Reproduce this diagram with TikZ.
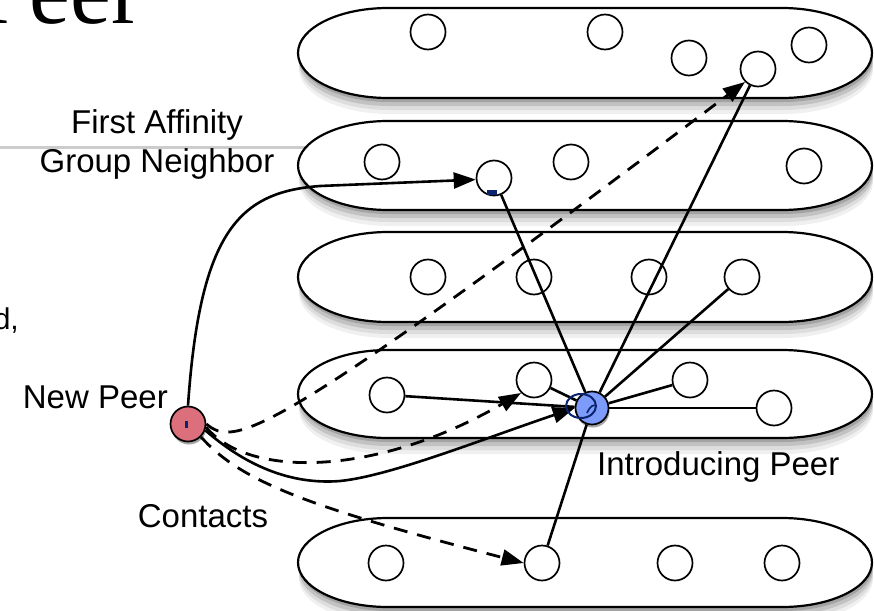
\documentclass[tikz,border=0pt]{standalone}
\usepackage{fontspec}
\setmainfont{Liberation Sans}
\newfontfamily\serifbig{Liberation Serif}
\usetikzlibrary{arrows.meta,shadows}
\definecolor{peerred}{HTML}{DB6F7B}
\definecolor{peerblue}{HTML}{7D9BFA}
\definecolor{inknavy}{HTML}{0A2470}
\tikzset{
  pill/.style={draw=black, line width=2.2pt, fill=white},
  peer/.style={circle, draw=black, line width=1.7pt, minimum size=35pt, inner sep=0pt},
  special/.style={peer, drop shadow={shadow xshift=1pt, shadow yshift=-3pt, opacity=0.35, fill=black}},
  conn/.style={line width=2.6pt},
  dashconn/.style={line width=2.8pt, dash pattern=on 14pt off 10pt},
  arr/.style={-{Triangle[length=22pt,width=16pt]}},
  lbl/.style={font=\fontsize{33}{39}\selectfont, inner sep=0pt},
  ink/.style={fill=inknavy, draw=none}
}
\begin{document}
\begin{tikzpicture}[x=1pt,y=1pt]
\useasboundingbox (0,0) rectangle (874,-610);
% fragments of slide text
\node[anchor=base west, inner sep=0pt, font=\serifbig\fontsize{92}{92}\selectfont] (ttl) at (-22,-24) {Peer};
\node[anchor=base east, inner sep=0pt, font=\fontsize{30}{32}\selectfont] (dfrag) at (19,-329) {d,};
% gray rule
\draw[line width=3pt, black!20] (0,-147) -- (310,-147);
% affinity groups with soft shadows
\foreach \t/\b in {8/98,121/210,232/322,350/438,518/607}{
  \foreach \s/\o in {16/0.06,12/0.08,8/0.12,4/0.16}{
    \fill[black, opacity=\o] (389,-\t-\s) -- (783,-\t-\s)
      arc[start angle=90, end angle=-90, x radius=90, y radius={(\b-\t)/2}]
      -- (389,-\b-\s)
      arc[start angle=270, end angle=90, x radius=90, y radius={(\b-\t)/2}]
      -- cycle;
  }
  \draw[pill] (388,-\t) -- (782,-\t)
    arc[start angle=90, end angle=-90, x radius=90, y radius={(\b-\t)/2}]
    -- (388,-\b)
    arc[start angle=270, end angle=90, x radius=90, y radius={(\b-\t)/2}]
    -- cycle;
}
% peers
\node[peer] (a1) at (428,-32) {};
\node[peer] (a2) at (605,-32) {};
\node[peer] (a3) at (689,-58) {};
\node[peer] (a4) at (758,-69) {};
\node[peer] (a5) at (809,-45) {};
\node[peer] (b1) at (382,-162) {};
\node[peer] (b2) at (494,-178) {};
\node[peer] (b3) at (571,-162) {};
\node[peer] (b4) at (804,-166) {};
\node[peer] (c1) at (428,-277) {};
\node[peer] (c2) at (534,-277) {};
\node[peer] (c3) at (649,-277) {};
\node[peer] (c4) at (742,-277) {};
\node[peer] (d1) at (387,-395) {};
\node[peer] (d2) at (534,-380) {};
\node[peer] (d3) at (690,-380) {};
\node[peer] (d4) at (774,-408) {};
\node[peer] (e1) at (386,-563) {};
\node[peer] (e2) at (542,-563) {};
\node[peer] (e3) at (675,-563) {};
\node[peer] (e4) at (782,-563) {};
\node[special, fill=peerblue, minimum size=33pt] (ip) at (592,-408) {};
\node[special, fill=peerred, minimum size=35pt] (np) at (188,-424) {};
% introducing peer links
\foreach \n in {a4,b2,c4,d1,d2,d3,d4,e2}{
  \draw[conn] (ip) -- (\n);
}
% new peer connections
\draw[conn,arr] (np.north) .. controls (200,-230) and (240,-192) .. (320,-186) -- (b2.185);
\draw[dashconn,arr] (np.east) .. controls (235,-448) and (270,-440) .. (a4.south west);
\draw[dashconn,arr] (np.350) .. controls (250,-480) and (380,-475) .. (d2.south west);
\draw[conn,arr] (np.340) .. controls (245,-465) and (290,-485) .. (340,-481)
  .. controls (390,-476) and (480,-440) .. (ip.west);
\draw[dashconn,arr] (np.south east) .. controls (240,-480) and (300,-505) .. (e2.west);
% ink marks
\draw[inknavy, line width=2pt] (581,-406) ellipse [x radius=15, y radius=12];
\draw[inknavy, line width=1.6pt] (587,-413) .. controls (590,-406) and (594,-404) .. (596,-406);
\fill[ink] (185,-421) rectangle (188,-428);
\fill[ink] (487,-190) rectangle (497,-195);
% labels
\node[lbl, align=center] (fagn) at (157,-144) {First Affinity\\Group Neighbor};
\node[lbl, anchor=base east] (npl) at (168,-408) {New Peer};
\node[lbl, anchor=base] (ctl) at (203,-527) {Contacts};
\node[lbl, anchor=base west] (ipl) at (597,-475) {Introducing Peer};
\end{tikzpicture}
\end{document}
